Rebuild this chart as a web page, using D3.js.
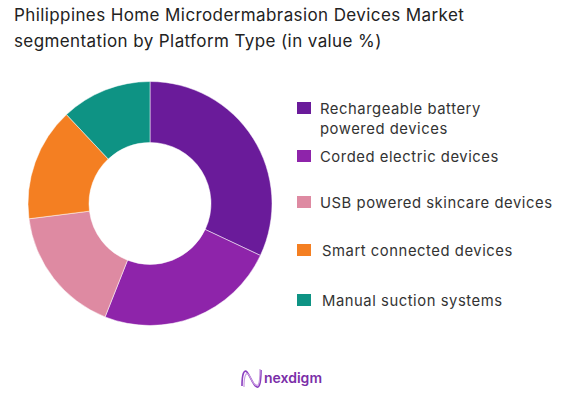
<!DOCTYPE html>
<html><head><meta charset="utf-8">
<script src="https://cdn.jsdelivr.net/npm/d3@7"></script>
<style>body{margin:0;background:#fff}svg{display:block}</style>
</head><body>
<svg id="chart" width="578" height="405"></svg>
<script>
const categories = ["Rechargeable battery powered devices","Corded electric devices","USB powered skincare devices","Smart connected devices","Manual suction systems"];
const values = [32, 24, 17, 15, 12];
const colors = ["#6a1b9a","#8e24aa","#de8aa2","#f47f22","#0e9384"];
const legendLines = [["Rechargeable battery","powered devices"],["Corded electric devices"],["USB powered skincare devices"],["Smart connected devices"],["Manual suction systems"]];
const titleLines = ["Philippines Home Microdermabrasion Devices Market","segmentation by Platform Type (in value %)"];

const svg = d3.select("#chart");
const font = "Inter, 'Noto Sans', sans-serif";

svg.append("g").selectAll("text").data(titleLines).join("text")
  .attr("x", 14).attr("y", (d,i)=>21+i*26)
  .attr("font-family", font).attr("font-size", 17).attr("letter-spacing", 0.4).attr("fill", "#222")
  .text(d=>d);

const data = categories.map((c,i)=>({c, v:values[i], col:colors[i]}));
const pie = d3.pie().value(d=>d.v).sort(null);
const arc = d3.arc().innerRadius(61).outerRadius(122);
svg.append("g").attr("transform","translate(150,203.5)")
  .selectAll("path").data(pie(data)).join("path")
  .attr("d", arc).attr("fill", d=>d.data.col)
  .attr("stroke","#fff").attr("stroke-width",0.5);

const legendY = [102, 150, 196, 244, 294];
const textX = [320, 320, 320, 322, 322];
const lg = svg.append("g");
data.forEach((d,i)=>{
  lg.append("rect").attr("x",297).attr("y",legendY[i]).attr("width",14).attr("height",12).attr("fill",d.col);
  lg.append("text").attr("x",textX[i]).attr("y",legendY[i]+12)
    .attr("font-family",font).attr("font-size",14.8).attr("letter-spacing",0.55).attr("fill","#333")
    .selectAll("tspan").data(legendLines[i]).join("tspan")
    .attr("x",textX[i]).attr("dy",(t,j)=>j===0?0:20).text(t=>t);
});

// logo
const logo = svg.append("g").attr("transform","translate(241,368)");
logo.append("path").attr("d","M1,18 C1,6 3,1 6,4 C10,9 12,18 16,19 C19,20 20,12 20,2")
  .attr("fill","none").attr("stroke","#8a3fc0").attr("stroke-width",1.6);
logo.append("path").attr("d","M3,19 C3,8 5,3 8,7 C11,12 13,19 17,17 C19,15 19,8 19,1")
  .attr("fill","none").attr("stroke","#c89ae0").attr("stroke-width",1.2);
logo.append("text").attr("x",23).attr("y",15)
  .attr("font-family",font).attr("font-size",14).attr("font-weight",600).attr("fill","#7b2fa8")
  .text("nexdigm");
</script>
</body></html>
